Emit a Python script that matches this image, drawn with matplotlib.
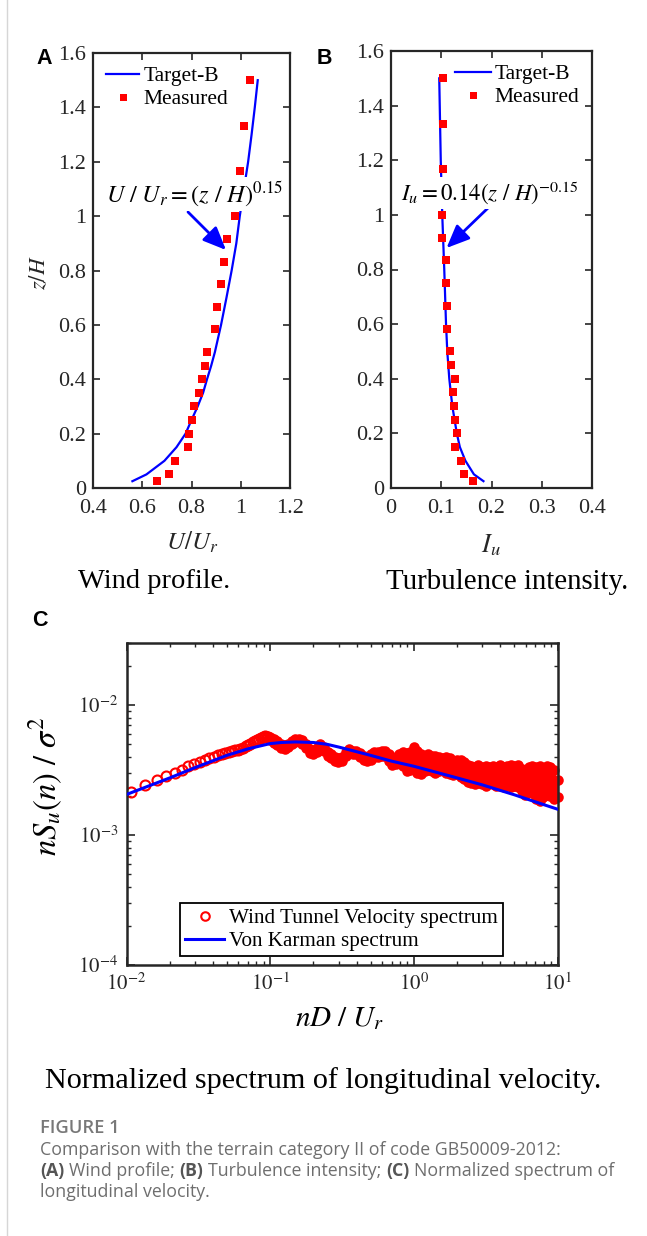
import numpy as np
import matplotlib
matplotlib.use('Agg')
import matplotlib.pyplot as plt
from matplotlib.lines import Line2D
from matplotlib.ticker import FuncFormatter, LogLocator, NullFormatter

plt.rcParams['font.family'] = ['Liberation Serif', 'DejaVu Serif']
plt.rcParams['mathtext.fontset'] = 'stix'

W, H = 647, 1236

# ---------------- data ----------------
# Panel A / B : measured heights
z_measured = [0.025, 0.05, 0.1, 0.15, 0.2, 0.25, 0.3, 0.35, 0.4, 0.45, 0.5,
              0.583, 0.667, 0.75, 0.833, 0.917, 1.0, 1.167, 1.333, 1.5]
U_measured = [0.659, 0.710, 0.735, 0.787, 0.790, 0.802, 0.809, 0.829, 0.843, 0.856,
              0.862, 0.896, 0.905, 0.920, 0.930, 0.943, 0.978, 0.996, 1.013, 1.038]
Iu_measured = [0.164, 0.145, 0.139, 0.127, 0.131, 0.127, 0.126, 0.123, 0.127, 0.119,
               0.117, 0.111, 0.111, 0.109, 0.109, 0.101, 0.102, 0.103, 0.1035, 0.104]

z_target_A = [0.025, 0.05, 0.1, 0.15, 0.2, 0.25, 0.3, 0.35, 0.4, 0.45, 0.5,
              0.6, 0.7, 0.8, 0.9, 1.0, 1.1, 1.2, 1.3, 1.4, 1.5]
U_target = [0.560, 0.617, 0.690, 0.739, 0.776, 0.800, 0.825, 0.847, 0.863, 0.880, 0.895,
            0.920, 0.942, 0.963, 0.982, 0.996, 1.013, 1.030, 1.044, 1.057, 1.069]

z_target_B = [0.025, 0.05, 0.1, 0.15, 0.2, 0.3, 0.4, 0.5, 0.6, 0.8, 1.0, 1.2, 1.5]
Iu_target = [0.184, 0.165, 0.148, 0.137, 0.131, 0.122, 0.116, 0.112, 0.1095, 0.106,
             0.102, 0.099, 0.096]

# Panel C : low-frequency spectrum samples
f_low = [0.0108, 0.0135, 0.0162, 0.0189, 0.0216, 0.0243, 0.0270, 0.0297, 0.0324, 0.0351,
         0.0378, 0.0405, 0.0432, 0.0459, 0.0486, 0.0513, 0.0540, 0.0567, 0.0594, 0.0621,
         0.0648, 0.0675, 0.0702, 0.0729, 0.0756, 0.0783, 0.0810, 0.0837, 0.0864, 0.0891,
         0.0918, 0.0945, 0.0972, 0.0999]
S_low = [2.15e-3, 2.43e-3, 2.63e-3, 2.82e-3, 2.99e-3, 3.18e-3, 3.37e-3, 3.52e-3, 3.66e-3, 3.80e-3,
         3.89e-3, 4.01e-3, 4.10e-3, 4.20e-3, 4.28e-3, 4.35e-3, 4.42e-3, 4.48e-3, 4.54e-3, 4.61e-3,
         4.70e-3, 4.81e-3, 4.92e-3, 5.04e-3, 5.16e-3, 5.28e-3, 5.41e-3, 5.52e-3, 5.62e-3, 5.69e-3,
         5.73e-3, 5.71e-3, 5.65e-3, 5.56e-3]

# Panel C : dense high-frequency spectrum band (log10 values)
band_logf = [-1.000, -0.975, -0.950, -0.925, -0.900, -0.875, -0.850, -0.825, -0.800, -0.775,
             -0.750, -0.725, -0.700, -0.675, -0.650, -0.625, -0.600, -0.575, -0.550, -0.525,
             -0.500, -0.475, -0.450, -0.425, -0.400, -0.375, -0.350, -0.325, -0.300, -0.275,
             -0.250, -0.225, -0.200, -0.175, -0.150, -0.125, -0.100, -0.075, -0.050, -0.025,
             0.000, 0.025, 0.050, 0.075, 0.100, 0.125, 0.150, 0.175, 0.200, 0.225,
             0.250, 0.275, 0.300, 0.325, 0.350, 0.375, 0.400, 0.425, 0.450, 0.475,
             0.500, 0.525, 0.550, 0.575, 0.600, 0.625, 0.650, 0.675, 0.700, 0.725,
             0.750, 0.775, 0.800, 0.825, 0.850, 0.875, 0.900, 0.925, 0.950, 0.975, 1.000]
band_hi_logS = [-2.25, -2.26, -2.28, -2.30, -2.31, -2.30, -2.28, -2.265, -2.26, -2.27,
                -2.30, -2.34, -2.35, -2.33, -2.30, -2.32, -2.36, -2.38, -2.40, -2.41,
                -2.40, -2.36, -2.34, -2.35, -2.35, -2.37, -2.39, -2.40, -2.38, -2.36,
                -2.36, -2.35, -2.35, -2.38, -2.41, -2.40, -2.38, -2.36, -2.37, -2.36,
                -2.32, -2.35, -2.38, -2.39, -2.38, -2.39, -2.39, -2.40, -2.41, -2.40,
                -2.41, -2.43, -2.42, -2.42, -2.44, -2.46, -2.47, -2.48, -2.46, -2.48,
                -2.47, -2.48, -2.47, -2.48, -2.46, -2.48, -2.47, -2.46, -2.47, -2.46,
                -2.49, -2.50, -2.48, -2.47, -2.48, -2.47, -2.49, -2.47, -2.48, -2.50, -2.58]
band_lo_logS = [-2.27, -2.29, -2.31, -2.33, -2.34, -2.32, -2.30, -2.285, -2.28, -2.30,
                -2.33, -2.37, -2.38, -2.36, -2.33, -2.35, -2.39, -2.41, -2.43, -2.44,
                -2.43, -2.39, -2.37, -2.38, -2.38, -2.40, -2.42, -2.43, -2.42, -2.40,
                -2.40, -2.39, -2.39, -2.43, -2.46, -2.45, -2.44, -2.47, -2.51, -2.50,
                -2.49, -2.52, -2.53, -2.51, -2.50, -2.51, -2.52, -2.51, -2.50, -2.52,
                -2.53, -2.54, -2.53, -2.55, -2.57, -2.59, -2.60, -2.61, -2.60, -2.61,
                -2.62, -2.60, -2.61, -2.62, -2.62, -2.63, -2.61, -2.63, -2.62, -2.63,
                -2.66, -2.69, -2.66, -2.68, -2.72, -2.74, -2.71, -2.69, -2.70, -2.72, -2.71]

# Panel C : Von Karman spectrum
f_vk = [0.01, 0.02, 0.03, 0.05, 0.07, 0.1, 0.12, 0.15, 0.2, 0.25, 0.3, 0.5, 0.7, 1.0,
        2.0, 3.0, 5.0, 7.0, 10.0]
S_vk = [2.05e-3, 2.75e-3, 3.30e-3, 4.10e-3, 4.60e-3, 5.05e-3, 5.15e-3, 5.20e-3, 5.15e-3,
        4.98e-3, 4.75e-3, 4.10e-3, 3.70e-3, 3.38e-3, 2.75e-3, 2.43e-3, 2.04e-3, 1.80e-3, 1.58e-3]

A_xticks = [0.4, 0.6, 0.8, 1.0, 1.2]
B_xticks = [0, 0.1, 0.2, 0.3, 0.4]
AB_yticks = [0, 0.2, 0.4, 0.6, 0.8, 1.0, 1.2, 1.4, 1.6]
C_xticks = [1e-2, 1e-1, 1e0, 1e1]
C_xlabels = [r'$10^{-2}$', r'$10^{-1}$', r'$10^{0}$', r'$10^{1}$']
C_yticks = [1e-4, 1e-3, 1e-2]
C_ylabels = [r'$10^{-4}$', r'$10^{-3}$', r'$10^{-2}$']

# ---------------- figure ----------------
BLUE = '#0000FF'
RED = '#FF0000'
DARK = '#262626'

fig = plt.figure(figsize=(W / 100, H / 100), dpi=100)
fig.patch.set_facecolor('white')


def rect(l, t, r, b):
    return [l / W, 1 - b / H, (r - l) / W, (b - t) / H]


def fxy(x, y):
    return (x / W, 1 - y / H)


gfmt = FuncFormatter(lambda v, p: '%g' % v)


def style_lin(ax):
    ax.tick_params(direction='in', length=5, width=1.2, top=True, right=True,
                   labelsize=16, color=DARK, labelcolor=DARK)
    ax.tick_params(axis='x', pad=8)
    ax.tick_params(axis='y', pad=5)
    for s in ax.spines.values():
        s.set_linewidth(1.6)
        s.set_color(DARK)
    ax.xaxis.set_major_formatter(gfmt)
    ax.yaxis.set_major_formatter(gfmt)


# Panel A
axA = fig.add_axes(rect(93, 53, 290, 488))
axA.plot(U_target, z_target_A, color=BLUE, lw=1.6, label='Target-B')
axA.plot(U_measured, z_measured, 's', color=RED, ms=5.6, mew=0, label='Measured')
axA.set_xlim(0.4, 1.2)
axA.set_ylim(0, 1.6)
axA.set_xticks(A_xticks)
axA.set_yticks(AB_yticks)
style_lin(axA)
legA = axA.legend(loc='upper left', bbox_to_anchor=((106 - 93) / 197, 1 - (66 - 53) / 435),
                  borderaxespad=0, borderpad=0, frameon=False, fontsize=15.5,
                  handlelength=1.55, handletextpad=0.2, labelspacing=0.15, markerscale=0.9)

# Panel B
axB = fig.add_axes(rect(391, 51, 592, 488))
axB.plot(Iu_target, z_target_B, color=BLUE, lw=1.6, label='Target-B')
axB.plot(Iu_measured, z_measured, 's', color=RED, ms=5.6, mew=0, label='Measured')
axB.set_xlim(0, 0.4)
axB.set_ylim(0, 1.6)
axB.set_xticks(B_xticks)
axB.set_yticks(AB_yticks)
style_lin(axB)
legB = axB.legend(loc='upper left', bbox_to_anchor=((455 - 391) / 201, 1 - (64 - 51) / 437),
                  borderaxespad=0, borderpad=0, frameon=False, fontsize=15.5,
                  handlelength=1.65, handletextpad=0.2, labelspacing=0.15, markerscale=0.9)

# Annotations A / B
fig.text(*fxy(194.5, 194), r'$U\ /\ U_r=(z\ /\ H)^{0.15}$', ha='center', va='center',
         fontsize=17.5, color='black', bbox=dict(facecolor='white', edgecolor='none', pad=1.5))
fig.text(*fxy(490, 193), r'$I_u=0.14(z\ /\ H)^{-0.15}$', ha='center', va='center',
         fontsize=16.5, color='black', bbox=dict(facecolor='white', edgecolor='none', pad=2))
arrow_kw = dict(arrowstyle='-|>,head_length=0.7,head_width=0.3', color=BLUE, lw=2,
                mutation_scale=20, shrinkA=0, shrinkB=0)
axA.annotate('', xy=(226, H - 250), xycoords='figure pixels',
             xytext=(188, H - 212), textcoords='figure pixels', arrowprops=arrow_kw,
             annotation_clip=False)
axB.annotate('', xy=(446.5, H - 248), xycoords='figure pixels',
             xytext=(488, H - 208), textcoords='figure pixels', arrowprops=arrow_kw,
             annotation_clip=False)

# axis labels A / B
fig.text(*fxy(40, 273), r'$z/H$', rotation=90, ha='center', va='center', fontsize=16.5, color=DARK)
fig.text(*fxy(192, 542), r'$U/U_r$', ha='center', va='center', fontsize=18, color=DARK)
fig.text(*fxy(491, 545), r'$I_u$', ha='center', va='center', fontsize=19, color=DARK)

# subtitles
fig.text(*fxy(154, 582), 'Wind profile.', ha='center', va='center', fontsize=20.5, color='black')
fig.text(*fxy(507, 582), 'Turbulence intensity.', ha='center', va='center', fontsize=20.8,
         color='black')
fig.text(*fxy(323, 1081), 'Normalized spectrum of longitudinal velocity.', ha='center',
         va='center', fontsize=21.7, color='black')

# panel letters
for lab, x, y in [('A', 44, 58), ('B', 324, 58), ('C', 40, 621)]:
    fig.text(*fxy(x, y), lab, ha='center', va='center', fontsize=15.5, fontweight='bold',
             family=['Liberation Sans', 'DejaVu Sans'], color='black')

# Panel C
axC = fig.add_axes(rect(126.5, 643, 557.5, 965))
axC.set_xscale('log')
axC.set_yscale('log')
bf = [10 ** v for v in band_logf]
bh = [10 ** v for v in band_hi_logS]
bl = [10 ** v for v in band_lo_logS]
axC.fill_between(bf, bl, bh, color=RED, lw=0, zorder=2)
axC.plot(bf, bh, 'o', color=RED, ms=7.6, mew=0, zorder=2, clip_on=False)
axC.plot(bf, bl, 'o', color=RED, ms=7.6, mew=0, zorder=2, clip_on=False)
hC1, = axC.plot(f_low, S_low, 'o', mfc='none', mec=RED, ms=7.2, mew=1.5, zorder=2.5,
                label='Wind Tunnel Velocity spectrum')
hC2, = axC.plot(f_vk, S_vk, color=BLUE, lw=2.2, zorder=3, label='Von Karman spectrum')
axC.set_xlim(1e-2, 1e1)
axC.set_ylim(1e-4, 3e-2)
axC.set_xticks(C_xticks)
axC.set_xticklabels(C_xlabels)
axC.set_yticks(C_yticks)
axC.set_yticklabels(C_ylabels)
axC.xaxis.set_minor_locator(LogLocator(base=10, subs=np.arange(2, 10), numticks=20))
axC.yaxis.set_minor_locator(LogLocator(base=10, subs=np.arange(2, 10), numticks=20))
axC.xaxis.set_minor_formatter(NullFormatter())
axC.yaxis.set_minor_formatter(NullFormatter())
axC.tick_params(which='major', direction='in', length=6, width=1.2, top=True, right=True,
                labelsize=15, color=DARK, labelcolor=DARK, pad=6)
axC.tick_params(which='minor', direction='in', length=3, width=1.0, top=True, right=True,
                color=DARK)
for s in axC.spines.values():
    s.set_linewidth(1.8)
    s.set_color(DARK)
legC = axC.legend(handles=[hC1, hC2], loc='upper left',
                  bbox_to_anchor=((180 - 126.5) / 431, 1 - (903 - 643) / 322),
                  borderaxespad=0, borderpad=0.25, frameon=True, fancybox=False,
                  edgecolor='black', framealpha=1, fontsize=15.2, handlelength=1.85,
                  handletextpad=0.2, labelspacing=0.15, markerscale=0.85)
legC.get_frame().set_linewidth(1.3)

fig.text(*fxy(46, 786), r'$nS_u(n)\ /\ \sigma^2$', rotation=90, ha='center', va='center',
         fontsize=23.5, color='black')
fig.text(*fxy(340, 1019), r'$nD\ /\ U_r$', ha='center', va='center', fontsize=21,
         color='black')

# caption
CAP = ['Open Sans', 'DejaVu Sans']
GRAY = '#6e6e6e'
CAPFS = 12.8
fig.text(*fxy(40, 1128), 'FIGURE 1', ha='left', va='center', fontsize=13.2, family=CAP,
         color='#787878', fontweight='semibold')
fig.text(*fxy(40, 1150), 'Comparison with the terrain category II of code GB50009-2012:',
         ha='left', va='center', fontsize=CAPFS, family=CAP, color=GRAY)

fig.canvas.draw()
renderer = fig.canvas.get_renderer()


def text_w(s, **kw):
    t = fig.text(0, 0, s, **kw)
    w = t.get_window_extent(renderer).width
    t.remove()
    return w


space_w = text_w('a a', fontsize=CAPFS, family=CAP) - text_w('aa', fontsize=CAPFS, family=CAP)
pieces = [('(A)', 'bold', '#555555'), ('Wind profile;', 'normal', GRAY),
          ('(B)', 'bold', '#555555'), ('Turbulence intensity;', 'normal', GRAY),
          ('(C)', 'bold', '#555555'), ('Normalized spectrum of', 'normal', GRAY)]
x = 40
for txt, wt, col in pieces:
    t = fig.text(*fxy(x, 1171), txt, ha='left', va='center', fontsize=CAPFS, family=CAP,
                 color=col, fontweight=wt)
    x += t.get_window_extent(renderer).width + space_w
fig.text(*fxy(40, 1192), 'longitudinal velocity.', ha='left', va='center', fontsize=CAPFS,
         family=CAP, color=GRAY)

fig.add_artist(Line2D([7 / W, 7 / W], [0, 1], color='#d6d6d6', lw=1))

fig.savefig('out.png', dpi=100, facecolor='white')
